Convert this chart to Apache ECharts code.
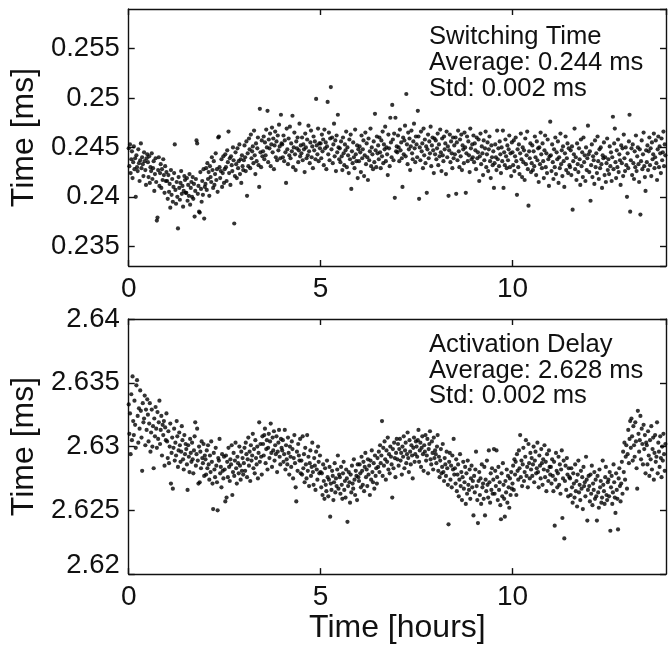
<!DOCTYPE html>
<html><head><meta charset="utf-8">
<script src="https://cdn.jsdelivr.net/npm/echarts@6/dist/echarts.min.js"></script>
<style>html,body{margin:0;padding:0;background:#fff}#chart{width:672px;height:645px}</style>
</head><body><div id="chart"></div>
<script>
// one sample per minute, time axis in hours
const sampleIntervalHours = 1 / 60;
const xTickLabels = [0, 5, 10];
const annotationTop = ['Switching Time', 'Average: 0.244 ms', 'Std: 0.002 ms'];
const annotationBottom = ['Activation Delay', 'Average: 2.628 ms', 'Std: 0.002 ms'];

// Switching time [ms] (30 samples per half hour)
const switchingTime = [
0.2449,0.2431,0.2453,0.2424,0.2438,0.2446,0.2419,0.2435,0.2451,0.2428,0.2439,0.2400,0.2442,0.2430,0.2426,0.2448,0.2434,0.2416,0.2437,0.2454,0.2429,0.2440,0.2433,0.2421,0.2445,0.2436,0.2427,0.2412,0.2439,0.2443,
0.2435,0.2420,0.2441,0.2414,0.2430,0.2426,0.2444,0.2418,0.2429,0.2436,0.2406,0.2423,0.2439,0.2415,0.2376,0.2379,0.2427,0.2440,0.2411,0.2424,0.2433,0.2409,0.2428,0.2417,0.2438,0.2422,0.2404,0.2431,0.2416,0.2425,
0.2416,0.2398,0.2422,0.2405,0.2413,0.2389,0.2427,0.2402,0.2418,0.2395,0.2410,0.2424,0.2453,0.2407,0.2393,0.2415,0.2400,0.2368,0.2420,0.2409,0.2397,0.2414,0.2426,0.2403,0.2411,0.2390,0.2406,0.2421,0.2417,0.2404,
0.2404,0.2419,0.2396,0.2412,0.2401,0.2423,0.2392,0.2409,0.2415,0.2400,0.2420,0.2398,0.2413,0.2380,0.2406,0.2418,0.2457,0.2454,0.2403,0.2411,0.2385,0.2384,0.2425,0.2408,0.2395,0.2416,0.2402,0.2428,0.2378,0.2410,
0.2413,0.2429,0.2407,0.2434,0.2418,0.2425,0.2401,0.2431,0.2420,0.2415,0.2440,0.2427,0.2409,0.2436,0.2412,0.2423,0.2444,0.2417,0.2428,0.2405,0.2460,0.2461,0.2430,0.2419,0.2426,0.2438,0.2410,0.2424,0.2441,0.2414,
0.2428,0.2443,0.2430,0.2416,0.2447,0.2435,0.2466,0.2424,0.2439,0.2412,0.2441,0.2432,0.2426,0.2450,0.2437,0.2373,0.2421,0.2445,0.2433,0.2419,0.2449,0.2429,0.2436,0.2453,0.2423,0.2438,0.2414,0.2442,0.2431,0.2427,
0.2437,0.2452,0.2440,0.2426,0.2456,0.2401,0.2444,0.2431,0.2459,0.2448,0.2429,0.2463,0.2439,0.2446,0.2451,0.2434,0.2467,0.2442,0.2423,0.2454,0.2436,0.2449,0.2460,0.2432,0.2410,0.2489,0.2445,0.2430,0.2457,0.2441,
0.2446,0.2461,0.2438,0.2455,0.2442,0.2468,0.2450,0.2487,0.2435,0.2458,0.2449,0.2464,0.2431,0.2453,0.2470,0.2445,0.2459,0.2428,0.2452,0.2466,0.2440,0.2456,0.2437,0.2462,0.2447,0.2473,0.2451,0.2439,0.2483,0.2454,
0.2453,0.2440,0.2462,0.2436,0.2457,0.2445,0.2414,0.2469,0.2448,0.2433,0.2459,0.2442,0.2471,0.2439,0.2454,0.2446,0.2482,0.2430,0.2450,0.2465,0.2443,0.2427,0.2456,0.2449,0.2460,0.2435,0.2447,0.2474,0.2441,0.2452,
0.2444,0.2460,0.2437,0.2453,0.2448,0.2425,0.2464,0.2450,0.2439,0.2458,0.2442,0.2472,0.2446,0.2434,0.2455,0.2467,0.2440,0.2451,0.2429,0.2461,0.2447,0.2456,0.2438,0.2499,0.2452,0.2443,0.2469,0.2436,0.2454,0.2449,
0.2454,0.2439,0.2463,0.2446,0.2458,0.2432,0.2468,0.2449,0.2455,0.2428,0.2451,0.2496,0.2443,0.2465,0.2437,0.2459,0.2511,0.2448,0.2460,0.2434,0.2453,0.2474,0.2441,0.2457,0.2426,0.2462,0.2445,0.2483,0.2450,0.2438,
0.2449,0.2435,0.2456,0.2441,0.2427,0.2460,0.2444,0.2432,0.2453,0.2447,0.2466,0.2430,0.2450,0.2442,0.2424,0.2458,0.2438,0.2463,0.2408,0.2446,0.2434,0.2455,0.2440,0.2429,0.2468,0.2443,0.2436,0.2452,0.2419,0.2448,
0.2436,0.2451,0.2445,0.2425,0.2462,0.2439,0.2448,0.2457,0.2421,0.2442,0.2465,0.2433,0.2454,0.2440,0.2417,0.2459,0.2437,0.2446,0.2469,0.2431,0.2450,0.2443,0.2428,0.2456,0.2435,0.2484,0.2447,0.2430,0.2461,0.2444,
0.2452,0.2438,0.2460,0.2445,0.2429,0.2457,0.2441,0.2466,0.2434,0.2453,0.2448,0.2471,0.2436,0.2450,0.2443,0.2422,0.2463,0.2449,0.2431,0.2480,0.2455,0.2440,0.2493,0.2458,0.2437,0.2464,0.2399,0.2480,0.2446,0.2451,
0.2445,0.2462,0.2450,0.2436,0.2468,0.2447,0.2455,0.2439,0.2410,0.2460,0.2443,0.2457,0.2472,0.2441,0.2504,0.2453,0.2433,0.2465,0.2448,0.2459,0.2427,0.2451,0.2467,0.2444,0.2438,0.2456,0.2474,0.2449,0.2435,0.2461,
0.2453,0.2440,0.2487,0.2461,0.2398,0.2450,0.2437,0.2466,0.2446,0.2454,0.2429,0.2469,0.2442,0.2458,0.2434,0.2451,0.2404,0.2448,0.2463,0.2439,0.2456,0.2444,0.2471,0.2431,0.2452,0.2460,0.2447,0.2424,0.2459,0.2443,
0.2457,0.2438,0.2449,0.2464,0.2432,0.2453,0.2441,0.2468,0.2445,0.2426,0.2459,0.2442,0.2436,0.2461,0.2448,0.2454,0.2423,0.2466,0.2440,0.2451,0.2401,0.2447,0.2463,0.2435,0.2456,0.2444,0.2429,0.2460,0.2439,0.2452,
0.2443,0.2460,0.2403,0.2455,0.2437,0.2467,0.2446,0.2430,0.2458,0.2441,0.2463,0.2427,0.2452,0.2448,0.2434,0.2465,0.2450,0.2404,0.2444,0.2461,0.2436,0.2456,0.2442,0.2425,0.2469,0.2449,0.2438,0.2453,0.2440,0.2462,
0.2435,0.2454,0.2447,0.2428,0.2460,0.2439,0.2445,0.2458,0.2416,0.2441,0.2464,0.2433,0.2451,0.2444,0.2422,0.2457,0.2437,0.2449,0.2466,0.2430,0.2443,0.2455,0.2426,0.2448,0.2461,0.2436,0.2419,0.2452,0.2440,0.2432,
0.2446,0.2409,0.2434,0.2453,0.2440,0.2427,0.2467,0.2438,0.2449,0.2431,0.2456,0.2443,0.2424,0.2450,0.2436,0.2467,0.2409,0.2445,0.2432,0.2458,0.2441,0.2429,0.2452,0.2437,0.2448,0.2462,0.2430,0.2444,0.2421,0.2455,
0.2445,0.2432,0.2457,0.2426,0.2441,0.2460,0.2436,0.2402,0.2448,0.2430,0.2453,0.2423,0.2444,0.2464,0.2438,0.2420,0.2450,0.2435,0.2447,0.2417,0.2459,0.2433,0.2442,0.2466,0.2428,0.2391,0.2446,0.2439,0.2454,0.2425,
0.2434,0.2452,0.2427,0.2446,0.2431,0.2461,0.2440,0.2422,0.2456,0.2437,0.2449,0.2415,0.2450,0.2433,0.2465,0.2443,0.2429,0.2454,0.2436,0.2419,0.2447,0.2462,0.2430,0.2444,0.2424,0.2458,0.2438,0.2411,0.2441,0.2476,
0.2442,0.2426,0.2453,0.2435,0.2418,0.2448,0.2430,0.2460,0.2423,0.2445,0.2438,0.2456,0.2414,0.2440,0.2429,0.2464,0.2433,0.2447,0.2421,0.2451,0.2436,0.2410,0.2444,0.2461,0.2427,0.2439,0.2454,0.2424,0.2449,0.2432,
0.2430,0.2447,0.2422,0.2451,0.2387,0.2436,0.2443,0.2469,0.2428,0.2440,0.2417,0.2454,0.2433,0.2425,0.2449,0.2438,0.2412,0.2458,0.2431,0.2445,0.2420,0.2460,0.2435,0.2442,0.2416,0.2450,0.2427,0.2439,0.2472,0.2443,
0.2425,0.2446,0.2396,0.2432,0.2453,0.2420,0.2441,0.2437,0.2413,0.2457,0.2430,0.2444,0.2424,0.2461,0.2436,0.2418,0.2448,0.2429,0.2450,0.2433,0.2409,0.2442,0.2439,0.2455,0.2422,0.2440,0.2415,0.2434,0.2459,0.2427,
0.2438,0.2423,0.2451,0.2431,0.2445,0.2416,0.2440,0.2481,0.2428,0.2454,0.2469,0.2435,0.2419,0.2447,0.2430,0.2458,0.2425,0.2443,0.2437,0.2412,0.2452,0.2434,0.2449,0.2421,0.2463,0.2439,0.2426,0.2450,0.2432,0.2400,
0.2444,0.2429,0.2456,0.2483,0.2385,0.2437,0.2449,0.2422,0.2453,0.2434,0.2418,0.2446,0.2430,0.2462,0.2426,0.2441,0.2450,0.2433,0.2415,0.2448,0.2382,0.2436,0.2457,0.2428,0.2443,0.2465,0.2431,0.2420,0.2406,0.2447,
0.2435,0.2452,0.2427,0.2446,0.2460,0.2432,0.2449,0.2421,0.2455,0.2438,0.2443,0.2464,0.2429,0.2440,0.2457,0.2434,0.2417,0.2448,0.2461,0.2430,0.2451,0.2444,0.2424,0.2459,0.2437,0.2445,0.2466,0.2431,0.2453,0.2442
];

// Activation delay [ms] (30 samples per half hour)
const activationDelay = [
2.6333,2.6310,2.6326,2.6294,2.6341,2.6305,2.6355,2.6320,2.6309,2.6336,2.6317,2.6299,2.6348,2.6352,2.6324,2.6303,2.6330,2.6314,2.6344,2.6328,2.6307,2.6281,2.6334,2.6319,2.6322,2.6340,2.6301,2.6329,2.6313,2.6337,
2.6325,2.6304,2.6318,2.6334,2.6296,2.6311,2.6329,2.6300,2.6316,2.6283,2.6322,2.6308,2.6331,2.6314,2.6299,2.6327,2.6306,2.6319,2.6336,2.6302,2.6313,2.6324,2.6293,2.6317,2.6309,2.6320,2.6285,2.6315,2.6305,2.6326,
2.6304,2.6291,2.6312,2.6287,2.6300,2.6318,2.6271,2.6295,2.6307,2.6267,2.6299,2.6314,2.6289,2.6303,2.6293,2.6320,2.6308,2.6284,2.6297,2.6311,2.6301,2.6288,2.6296,2.6316,2.6305,2.6290,2.6282,2.6309,2.6294,2.6302,
2.6298,2.6286,2.6266,2.6301,2.6292,2.6280,2.6306,2.6295,2.6288,2.6303,2.6290,2.6279,2.6297,2.6308,2.6319,2.6285,2.6294,2.6314,2.6289,2.6271,2.6300,2.6272,2.6296,2.6283,2.6304,2.6291,2.6287,2.6302,2.6277,2.6293,
2.6290,2.6278,2.6297,2.6283,2.6301,2.6286,2.6274,2.6293,2.6280,2.6304,2.6288,2.6271,2.6251,2.6295,2.6282,2.6276,2.6299,2.6285,2.6272,2.6250,2.6291,2.6289,2.6306,2.6279,2.6284,2.6268,2.6294,2.6281,2.6275,2.6292,
2.6282,2.6257,2.6293,2.6260,2.6288,2.6276,2.6299,2.6284,2.6273,2.6290,2.6286,2.6301,2.6262,2.6280,2.6295,2.6277,2.6289,2.6303,2.6283,2.6271,2.6292,2.6287,2.6279,2.6300,2.6285,2.6274,2.6296,2.6281,2.6291,2.6278,
2.6287,2.6299,2.6281,2.6303,2.6294,2.6276,2.6290,2.6307,2.6285,2.6296,2.6273,2.6301,2.6289,2.6293,2.6310,2.6283,2.6298,2.6279,2.6305,2.6291,2.6286,2.6300,2.6275,2.6295,2.6319,2.6288,2.6302,2.6292,2.6278,2.6308,
2.6302,2.6293,2.6309,2.6314,2.6287,2.6298,2.6305,2.6282,2.6299,2.6310,2.6291,2.6304,2.6318,2.6295,2.6284,2.6307,2.6297,2.6312,2.6289,2.6301,2.6294,2.6308,2.6280,2.6296,2.6303,2.6313,2.6292,2.6286,2.6306,2.6299,
2.6297,2.6305,2.6288,2.6294,2.6313,2.6282,2.6301,2.6290,2.6286,2.6307,2.6295,2.6278,2.6300,2.6292,2.6284,2.6304,2.6298,2.6275,2.6291,2.6309,2.6287,2.6268,2.6257,2.6296,2.6281,2.6302,2.6293,2.6289,2.6306,2.6279,
2.6289,2.6278,2.6308,2.6283,2.6294,2.6272,2.6299,2.6286,2.6275,2.6309,2.6281,2.6292,2.6269,2.6287,2.6297,2.6277,2.6284,2.6303,2.6280,2.6270,2.6291,2.6285,2.6266,2.6296,2.6282,2.6274,2.6300,2.6288,2.6279,2.6293,
2.6280,2.6268,2.6279,2.6262,2.6286,2.6273,2.6259,2.6283,2.6270,2.6265,2.6289,2.6276,2.6261,2.6274,2.6284,2.6245,2.6271,2.6266,2.6281,2.6277,2.6258,2.6272,2.6287,2.6264,2.6275,2.6269,2.6282,2.6293,2.6267,2.6278,
2.6276,2.6263,2.6284,2.6270,2.6259,2.6279,2.6288,2.6266,2.6273,2.6260,2.6282,2.6275,2.6241,2.6269,2.6280,2.6272,2.6256,2.6278,2.6264,2.6285,2.6271,2.6267,2.6290,2.6274,2.6262,2.6281,2.6277,2.6258,2.6286,2.6276,
2.6273,2.6286,2.6279,2.6268,2.6292,2.6281,2.6270,2.6288,2.6265,2.6284,2.6295,2.6276,2.6282,2.6269,2.6290,2.6278,2.6285,2.6262,2.6289,2.6274,2.6297,2.6280,2.6272,2.6287,2.6267,2.6293,2.6277,2.6283,2.6271,2.6291,
2.6284,2.6296,2.6280,2.6301,2.6287,2.6293,2.6320,2.6277,2.6299,2.6285,2.6304,2.6290,2.6274,2.6297,2.6288,2.6307,2.6282,2.6294,2.6279,2.6300,2.6292,2.6286,2.6260,2.6298,2.6283,2.6303,2.6291,2.6276,2.6295,2.6306,
2.6290,2.6302,2.6285,2.6298,2.6306,2.6289,2.6295,2.6278,2.6300,2.6292,2.6308,2.6283,2.6297,2.6303,2.6287,2.6294,2.6311,2.6291,2.6280,2.6305,2.6296,2.6286,2.6301,2.6293,2.6275,2.6299,2.6307,2.6288,2.6294,2.6304,
2.6300,2.6292,2.6305,2.6313,2.6288,2.6297,2.6303,2.6284,2.6299,2.6308,2.6294,2.6281,2.6301,2.6296,2.6309,2.6289,2.6293,2.6306,2.6279,2.6298,2.6302,2.6312,2.6290,2.6286,2.6304,2.6295,2.6282,2.6307,2.6291,2.6297,
2.6294,2.6287,2.6300,2.6309,2.6281,2.6292,2.6276,2.6289,2.6298,2.6279,2.6284,2.6302,2.6280,2.6273,2.6291,2.6286,2.6277,2.6296,2.6283,2.6270,2.6239,2.6288,2.6295,2.6274,2.6285,2.6268,2.6293,2.6282,2.6306,2.6278,
2.6283,2.6271,2.6290,2.6265,2.6278,2.6286,2.6261,2.6274,2.6294,2.6269,2.6280,2.6258,2.6276,2.6288,2.6267,2.6272,2.6284,2.6255,2.6279,2.6263,2.6289,2.6270,2.6266,2.6282,2.6259,2.6275,2.6285,2.6268,2.6273,2.6246,
2.6277,2.6264,2.6282,2.6296,2.6269,2.6258,2.6240,2.6273,2.6280,2.6262,2.6275,2.6255,2.6286,2.6268,2.6271,2.6259,2.6284,2.6246,2.6274,2.6265,2.6289,2.6270,2.6260,2.6297,2.6272,2.6256,2.6279,2.6266,2.6283,2.6263,
2.6274,2.6298,2.6263,2.6281,2.6269,2.6297,2.6276,2.6258,2.6284,2.6266,2.6272,2.6254,2.6243,2.6279,2.6261,2.6287,2.6270,2.6259,2.6245,2.6273,2.6264,2.6282,2.6256,2.6277,2.6268,2.6252,2.6275,2.6262,2.6280,2.6267,
2.6271,2.6285,2.6266,2.6290,2.6278,2.6288,2.6262,2.6294,2.6281,2.6274,2.6297,2.6283,2.6309,2.6276,2.6289,2.6269,2.6286,2.6299,2.6273,2.6280,2.6292,2.6305,2.6277,2.6284,2.6268,2.6302,2.6287,2.6275,2.6295,2.6282,
2.6291,2.6277,2.6286,2.6300,2.6272,2.6289,2.6296,2.6279,2.6283,2.6303,2.6280,2.6268,2.6293,2.6285,2.6275,2.6298,2.6287,2.6270,2.6290,2.6282,2.6301,2.6276,2.6288,2.6265,2.6294,2.6281,2.6273,2.6297,2.6284,2.6278,
2.6284,2.6271,2.6290,2.6277,2.6265,2.6288,2.6238,2.6274,2.6295,2.6281,2.6268,2.6279,2.6292,2.6270,2.6286,2.6263,2.6282,2.6297,2.6244,2.6275,2.6289,2.6228,2.6273,2.6285,2.6266,2.6291,2.6278,2.6261,2.6283,2.6276,
2.6275,2.6262,2.6283,2.6268,2.6256,2.6279,2.6271,2.6260,2.6286,2.6265,2.6273,2.6253,2.6278,2.6289,2.6264,2.6270,2.6258,2.6281,2.6267,2.6276,2.6251,2.6284,2.6269,2.6272,2.6261,2.6292,2.6274,2.6242,2.6266,2.6277,
2.6269,2.6257,2.6278,2.6263,2.6285,2.6254,2.6271,2.6266,2.6280,2.6259,2.6274,2.6261,2.6242,2.6277,2.6264,2.6252,2.6282,2.6268,2.6273,2.6256,2.6260,2.6289,2.6270,2.6265,2.6255,2.6276,2.6284,2.6262,2.6258,2.6272,
2.6274,2.6261,2.6280,2.6234,2.6268,2.6277,2.6255,2.6264,2.6286,2.6272,2.6260,2.6248,2.6279,2.6266,2.6259,2.6235,2.6275,2.6283,2.6269,2.6257,2.6271,2.6288,2.6263,2.6296,2.6280,2.6303,2.6274,2.6292,2.6301,2.6267,
2.6294,2.6313,2.6287,2.6306,2.6320,2.6299,2.6322,2.6308,2.6289,2.6316,2.6301,2.6292,2.6319,2.6304,2.6283,2.6267,2.6328,2.6310,2.6296,2.6305,2.6324,2.6290,2.6314,2.6302,2.6286,2.6317,2.6298,2.6309,2.6279,2.6303,
2.6301,2.6286,2.6312,2.6293,2.6277,2.6305,2.6290,2.6316,2.6282,2.6298,2.6307,2.6274,2.6295,2.6309,2.6288,2.6292,2.6319,2.6279,2.6303,2.6296,2.6284,2.6308,2.6291,2.6276,2.6300,2.6289,2.6310,2.6294,2.6281,2.6302
];

const FONT = '"Liberation Sans", Arial, Helvetica, sans-serif';
const INK = '#111';
const lineStyle = { color: INK, width: 1.4 };

function xAxisDef(gridIndex, position, withLabels, extra) {
  return Object.assign({
    type: 'value', gridIndex, position, min: 0, max: 14, interval: 5,
    axisLine: { show: true, onZero: false, lineStyle },
    axisTick: { show: true, inside: true, length: 6, lineStyle },
    splitLine: { show: false },
    axisLabel: withLabels ? {
      show: true, fontSize: 28, fontFamily: FONT, color: INK, margin: 9,
      showMaxLabel: false,
      formatter: v => xTickLabels.includes(v) ? String(v) : ''
    } : { show: false }
  }, extra || {});
}
function yAxisDef(gridIndex, position, range, withLabels, extra) {
  const label = withLabels ? {
    show: true, fontSize: 27.5, fontFamily: FONT, color: INK, margin: 9,
    showMinLabel: range.showEnds, showMaxLabel: range.showEnds
  } : { show: false };
  if (withLabels && range.liftMin) {
    // lowest label sits a little above its tick, clear of the x tick label below
    label.formatter = v => (Math.abs(v - range.min) < 1e-9 ? '{lift|' + v + '}' : String(v));
    label.rich = { lift: { fontSize: 27.5, fontFamily: FONT, color: INK, padding: [0, 0, 18, 0] } };
  }
  return Object.assign({
    type: 'value', gridIndex, position, min: range.min, max: range.max,
    axisLine: { show: true, onZero: false, lineStyle },
    axisTick: { show: true, inside: true, length: 6, lineStyle },
    splitLine: { show: false },
    axisLabel: label
  }, range.extra || {}, extra || {});
}

const topRange = { min: 0.233, max: 0.259, showEnds: false, extra: { splitNumber: 5 } };
const bottomRange = { min: 2.62, max: 2.64, showEnds: true, liftMin: true, extra: { interval: 0.005 } };
const yName = { name: 'Time [ms]', nameLocation: 'middle', nameGap: 84,
  nameTextStyle: { fontSize: 32, fontFamily: FONT, color: INK } };

const chart = echarts.init(document.getElementById('chart'), null, { renderer: 'canvas' });
chart.setOption({
  animation: false,
  backgroundColor: '#fff',
  textStyle: { fontFamily: FONT },
  grid: [
    { left: 128.5, right: 6, top: 9, height: 257 },
    { left: 128.5, right: 6, top: 319, height: 257 }
  ],
  xAxis: [
    xAxisDef(0, 'bottom', true),
    xAxisDef(0, 'top', false),
    xAxisDef(1, 'bottom', true, { name: 'Time [hours]', nameLocation: 'middle', nameGap: 37,
      nameTextStyle: { fontSize: 32, fontFamily: FONT, color: INK } }),
    xAxisDef(1, 'top', false)
  ],
  yAxis: [
    yAxisDef(0, 'left', topRange, true, yName),
    yAxisDef(0, 'right', topRange, false),
    yAxisDef(1, 'left', bottomRange, true, yName),
    yAxisDef(1, 'right', bottomRange, false)
  ],
  series: [
    { type: 'scatter', xAxisIndex: 0, yAxisIndex: 0, silent: true,
      symbol: 'circle', symbolSize: 4.2, itemStyle: { color: '#000' },
      data: switchingTime.map((v, i) => [i * sampleIntervalHours, v]) },
    { type: 'scatter', xAxisIndex: 2, yAxisIndex: 2, silent: true,
      symbol: 'circle', symbolSize: 4.2, itemStyle: { color: '#000' },
      data: activationDelay.map((v, i) => [i * sampleIntervalHours, v]) }
  ],
  graphic: [
    { type: 'text', left: 429, top: 24, silent: true,
      style: { text: annotationTop.join('\n'), fontSize: 25.6, fontFamily: FONT, lineHeight: 26, fill: INK } },
    { type: 'text', left: 429, top: 332, silent: true,
      style: { text: annotationBottom.join('\n'), fontSize: 25.6, fontFamily: FONT, lineHeight: 25.5, fill: INK } }
  ]
});
</script>
</body></html>
